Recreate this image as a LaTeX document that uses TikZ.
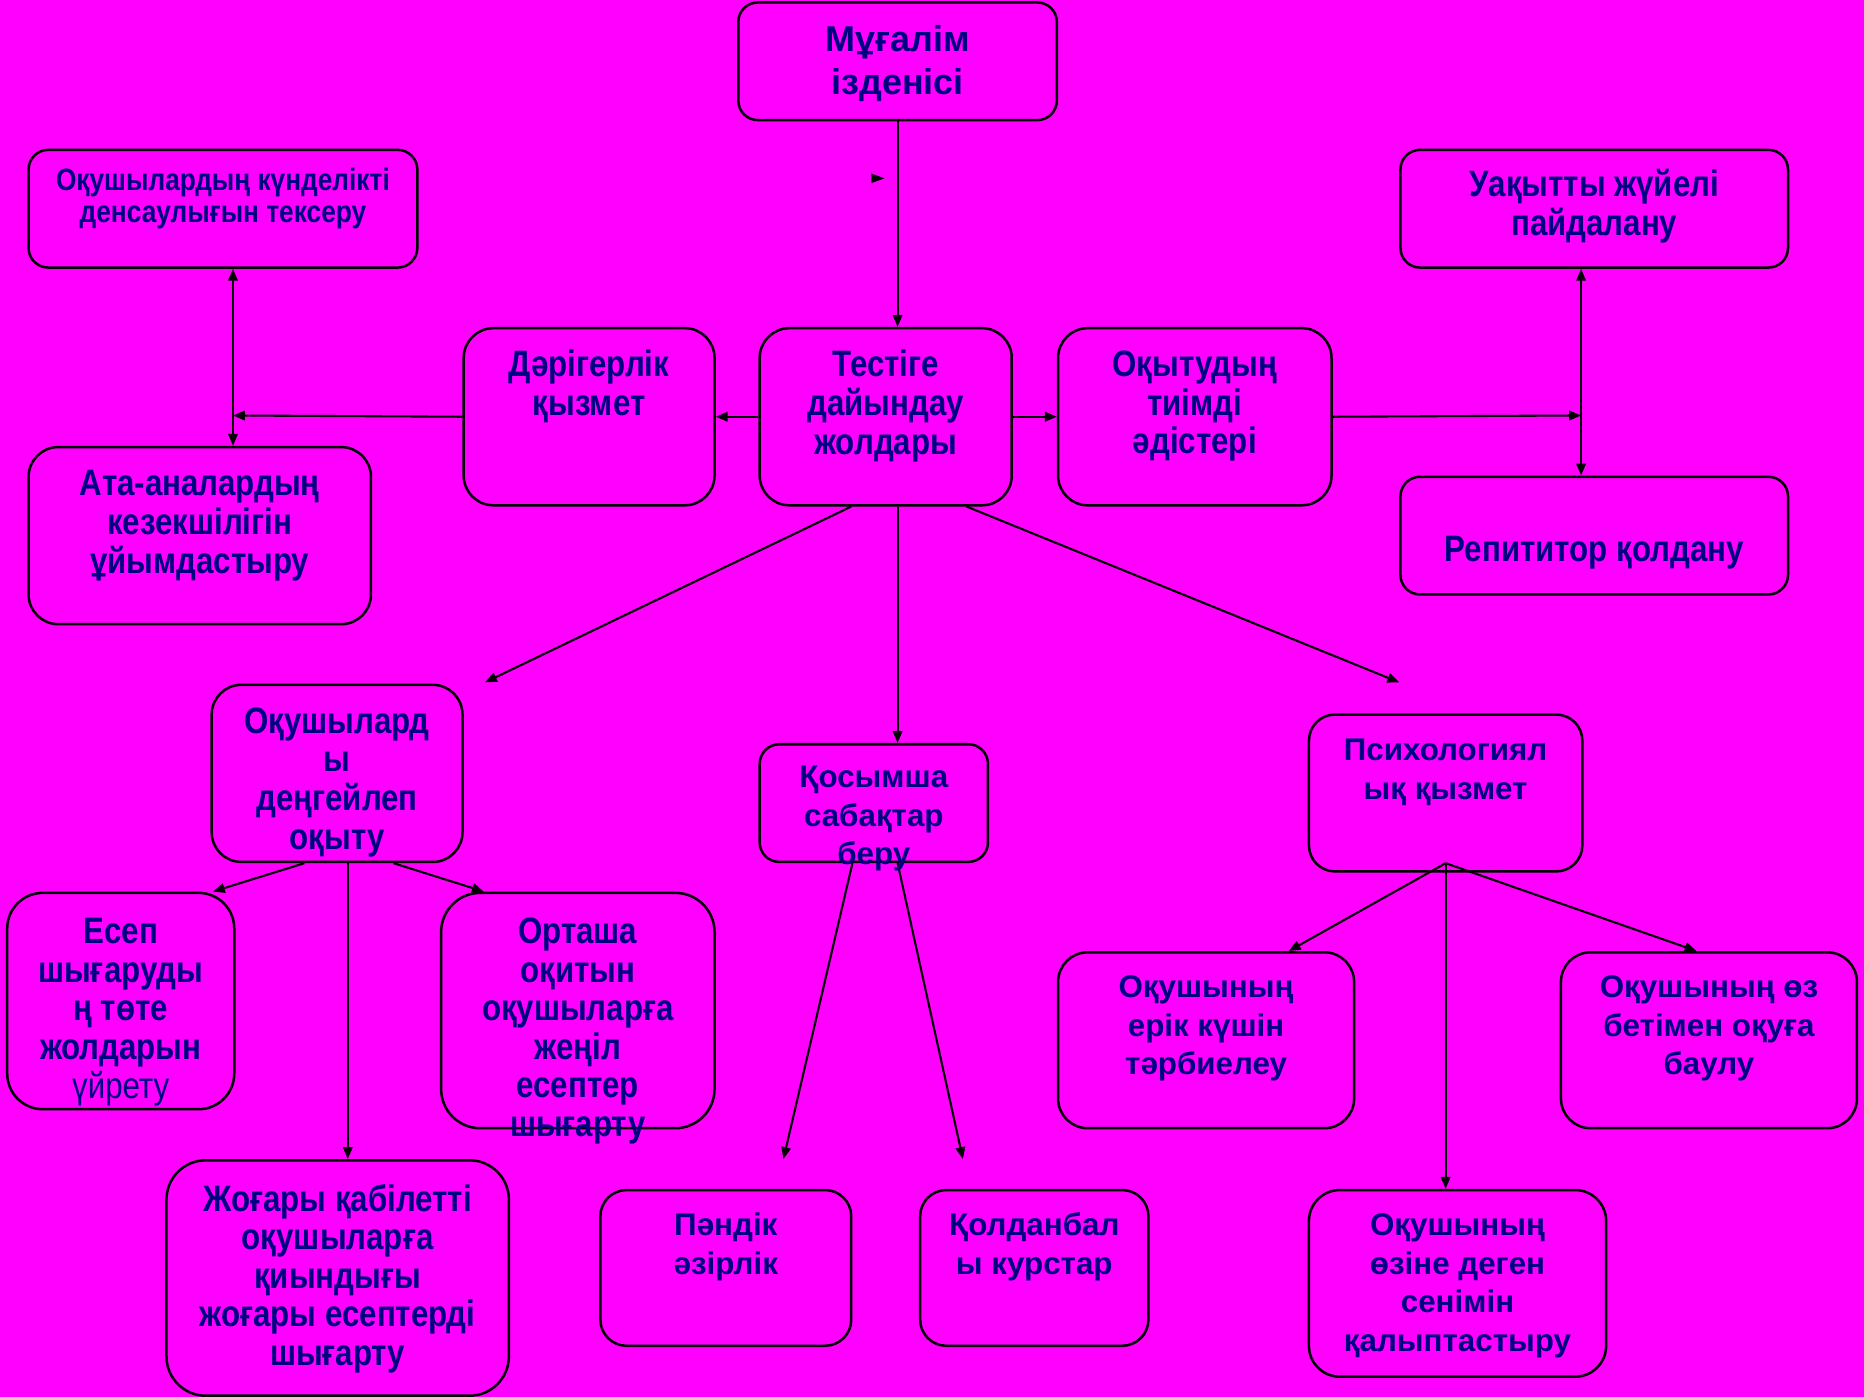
\documentclass[tikz,border=0pt]{standalone}
\usepackage{fontspec}
\setmainfont{Liberation Sans}
\newfontfamily\narrowface[FakeStretch=0.85]{Liberation Sans}
\usetikzlibrary{arrows.meta}
\definecolor{slidebg}{RGB}{255,0,255}
\definecolor{inkblue}{RGB}{0,0,128}

\providecommand{\wideheadsize}{\fontsize{8.6pt}{10.5pt}\selectfont}
\providecommand{\widetextsize}{\fontsize{7.5pt}{9.2pt}\selectfont}
\providecommand{\narrowtextsize}{\fontsize{8.8pt}{9.2pt}\selectfont}
\providecommand{\narrowsmallsize}{\fontsize{7.4pt}{7.7pt}\selectfont}
% lines of a box, baseline on the first line
\newcommand{\boxlines}[1]{\begin{tabular}[t]{@{}c@{}}#1\end{tabular}}

\tikzset{
  panel/.style={draw, line width=0.6pt, rounded corners=#1, anchor=north west, inner sep=0pt},
  panel/.default=2.5mm,
  wtxt/.style={anchor=base, inner sep=0pt, text=inkblue, font=\bfseries\widetextsize},
  ntxt/.style={anchor=base, inner sep=0pt, text=inkblue, font=\narrowface\bfseries\narrowtextsize},
  arr/.style={line width=0.5pt, -{Triangle[length=1mm,width=0.8mm]}},
  darr/.style={line width=0.5pt, {Triangle[length=1mm,width=0.8mm]}-{Triangle[length=1mm,width=0.8mm]}},
}

\begin{document}
\begin{tikzpicture}
    \fill[slidebg] (0,0) rectangle (15.68,-11.75);
    \useasboundingbox (0,0) rectangle (15.68,-11.75);

    % boxes
    \node[panel=1.65mm, minimum width=2.68cm, minimum height=0.99cm] (mug) at (6.20,-0.01) {};
    \node[panel=1.65mm, minimum width=3.27cm, minimum height=0.99cm] (kun) at (0.23,-1.25) {};
    \node[panel, minimum width=2.11cm, minimum height=1.49cm] (dar) at (3.89,-2.75) {};
    \node[panel, minimum width=2.12cm, minimum height=1.49cm] (test) at (6.38,-2.75) {};
    \node[panel, minimum width=2.30cm, minimum height=1.49cm] (okyt) at (8.89,-2.75) {};
    \node[panel=1.65mm, minimum width=3.26cm, minimum height=0.99cm] (uak) at (11.77,-1.25) {};
    \node[panel, minimum width=2.88cm, minimum height=1.49cm] (ata) at (0.23,-3.75) {};
    \node[panel=1.65mm, minimum width=3.26cm, minimum height=0.99cm] (rep) at (11.77,-4.00) {};
    \node[panel, minimum width=2.11cm, minimum height=1.49cm] (deng) at (1.77,-5.75) {};
    \node[panel=1.65mm, minimum width=1.92cm, minimum height=0.99cm] (kos) at (6.38,-6.25) {};
    \node[panel=2.2mm, minimum width=2.30cm, minimum height=1.32cm] (psi) at (11.00,-6.00) {};
    \node[panel=3mm, minimum width=1.91cm, minimum height=1.82cm] (esep) at (0.05,-7.50) {};
    \node[panel=3.3mm, minimum width=2.30cm, minimum height=1.98cm] (ort) at (3.70,-7.50) {};
    \node[panel=3.3mm, minimum width=2.88cm, minimum height=1.98cm] (zhog) at (1.39,-9.75) {};
    \node[panel=2.2mm, minimum width=2.11cm, minimum height=1.31cm] (pan) at (5.04,-10.00) {};
    \node[panel=2.2mm, minimum width=1.92cm, minimum height=1.31cm] (kol) at (7.73,-10.00) {};
    \node[panel, minimum width=2.49cm, minimum height=1.48cm] (erik) at (8.89,-8.00) {};
    \node[panel, minimum width=2.49cm, minimum height=1.48cm] (oz) at (13.12,-8.00) {};
    \node[panel=2.6mm, minimum width=2.50cm, minimum height=1.57cm] (ozine) at (11.00,-10.00) {};

    % free ends
    \coordinate (dj) at (1.96,-3.495);
    \coordinate (uj) at (13.30,-3.495);
    \coordinate (dengtip) at (4.08,-5.74);
    \coordinate (psitip) at (11.77,-5.74);
    \coordinate (pantip) at (6.59,-9.75);
    \coordinate (koltip) at (8.10,-9.75);
    \coordinate (psihub) at ([yshift=0.8mm]psi.south);
    \coordinate (stray) at (7.44,-1.50);

    % connectors
    \draw[arr] (mug.south) -- (mug.south |- test.north);
    \fill (stray) -- ++(-0.11,0.04) -- ++(0,-0.08) -- cycle;
    \draw[arr] (test.west) -- (dar.east);
    \draw[arr] (dar.west) -- (dj);
    \draw[darr] (dj |- kun.south) -- (dj |- ata.north);
    \draw[arr] (test.east) -- (okyt.west);
    \draw[arr] (okyt.east) -- (uj);
    \draw[darr] (uj |- uak.south) -- (uj |- rep.north);
    \draw[arr] ([xshift=-2.9mm]test.south) -- (dengtip);
    \draw[arr] (test.south -| mug.south) -- (kos.north -| mug.south);
    \draw[arr] ([xshift=6.8mm]test.south) -- (psitip);
    \draw[arr] ([xshift=-2.75mm]deng.south) -- ([xshift=-1.9mm]esep.north east);
    \draw[arr] ([xshift=0.9mm]deng.south) -- ([xshift=0.9mm]deng.south |- zhog.north);
    \draw[arr] ([xshift=4.75mm]deng.south) -- ([xshift=3.7mm]ort.north west);
    \draw[arr] ([xshift=-1.8mm]kos.south) -- (pantip);
    \draw[arr] ([xshift=2mm]kos.south) -- (koltip);
    \draw[arr] (psihub) -- ([xshift=-5.6mm]erik.north east);
    \draw[arr] (psihub) -- (psihub |- ozine.north);
    \draw[arr] (psihub) -- ([xshift=-1.05mm]oz.north);

    % texts
    \node[wtxt, font=\bfseries\wideheadsize] (mug-t) at ([yshift=-4.2mm]mug.north) {\boxlines{Мұғалім\\ізденісі}};
    \node[ntxt, font=\narrowface\bfseries\narrowsmallsize] (kun-t) at ([yshift=-3.5mm]kun.north) {\boxlines{Оқушылардың күнделікті\\денсаулығын тексеру}};
    \node[ntxt] (dar-t) at ([yshift=-4.2mm]dar.north) {\boxlines{Дәрігерлік\\қызмет}};
    \node[ntxt] (test-t) at ([yshift=-4.2mm]test.north) {\boxlines{Тестіге\\дайындау\\жолдары}};
    \node[ntxt] (okyt-t) at ([yshift=-4.2mm]okyt.north) {\boxlines{Оқытудың\\тиімді\\әдістері}};
    \node[ntxt] (uak-t) at ([yshift=-4.0mm]uak.north) {\boxlines{Уақытты жүйелі\\пайдалану}};
    \node[ntxt] (ata-t) at ([yshift=-4.2mm]ata.north) {\boxlines{Ата-аналардың\\кезекшілігін\\ұйымдастыру}};
    \node[ntxt] (rep-t) at ([yshift=-7.2mm]rep.north) {\boxlines{Репититор қолдану}};
    \node[ntxt] (deng-t) at ([yshift=-4.2mm]deng.north) {\boxlines{Оқушылард\\ы\\деңгейлеп\\оқыту}};
    \node[wtxt] (kos-t) at ([yshift=-3.75mm]kos.north) {\boxlines{Қосымша\\сабақтар\\беру}};
    \node[wtxt] (psi-t) at ([yshift=-4.0mm]psi.north) {\boxlines{Психологиял\\ық қызмет}};
    \node[ntxt] (esep-t) at ([yshift=-4.4mm]esep.north) {\boxlines{Есеп\\шығаруды\\ң төте\\жолдарын\\{\mdseries үйрету}}};
    \node[ntxt] (ort-t) at ([yshift=-4.4mm]ort.north) {\boxlines{Орташа\\оқитын\\оқушыларға\\жеңіл\\есептер\\шығарту}};
    \node[ntxt] (zhog-t) at ([yshift=-4.4mm]zhog.north) {\boxlines{Жоғары қабілетті\\оқушыларға\\қиындығы\\жоғары есептерді\\шығарту}};
    \node[wtxt] (pan-t) at ([yshift=-3.95mm]pan.north) {\boxlines{Пәндік\\әзірлік}};
    \node[wtxt] (kol-t) at ([yshift=-3.95mm]kol.north) {\boxlines{Қолданбал\\ы курстар}};
    \node[wtxt] (erik-t) at ([yshift=-3.95mm]erik.north) {\boxlines{Оқушының\\ерік күшін\\тәрбиелеу}};
    \node[wtxt] (oz-t) at ([yshift=-3.95mm]oz.north) {\boxlines{Оқушының өз\\бетімен оқуға\\баулу}};
    \node[wtxt] (ozine-t) at ([yshift=-3.95mm]ozine.north) {\boxlines{Оқушының\\өзіне деген\\сенімін\\қалыптастыру}};
\end{tikzpicture}
\end{document}
